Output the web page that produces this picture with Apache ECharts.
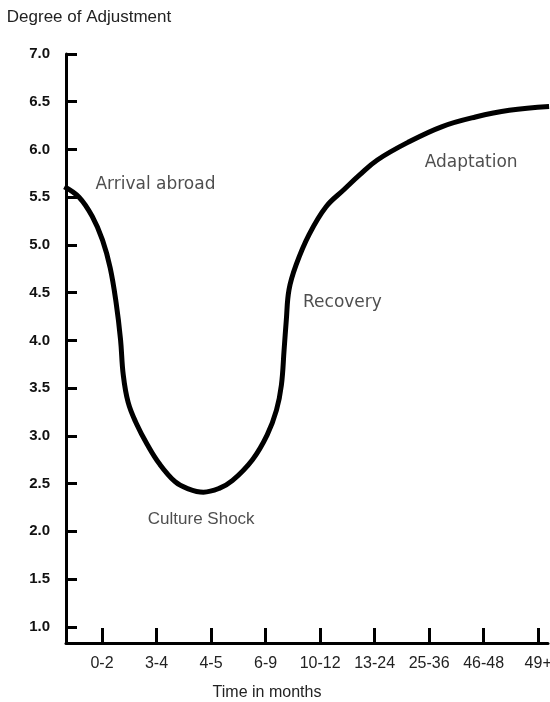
<!DOCTYPE html>
<html>
<head>
<meta charset="utf-8">
<script src="https://cdn.jsdelivr.net/npm/echarts@6/dist/echarts.min.js"></script>
<style>
  html, body { margin: 0; padding: 0; background: #fff; }
  #chart { width: 550px; height: 702px; }
</style>
</head>
<body>
<div id="chart"></div>
<script>
// culture shock curve
var categories = ['0-2', '3-4', '4-5', '6-9', '10-12', '13-24', '25-36', '46-48', '49+'];
var yTicks = [1.0, 1.5, 2.0, 2.5, 3.0, 3.5, 4.0, 4.5, 5.0, 5.5, 6.0, 6.5, 7.0];

// curve, x in category steps
var curveX = [-0.69, -0.42, -0.18, 0.01, 0.15, 0.26, 0.34, 0.39, 0.48, 0.63, 0.83, 1.05,
	1.34, 1.56, 1.86, 2.15, 2.39, 2.76, 3.03, 3.20, 3.29, 3.34, 3.38, 3.43, 3.56, 3.80,
	4.11, 4.44, 4.72, 5.05, 5.63, 6.24, 6.85, 7.47, 8.20];
var curveY = [5.61, 5.50, 5.30, 5.05, 4.76, 4.39, 4.01, 3.64, 3.35, 3.13, 2.91, 2.71,
	2.52, 2.45, 2.41, 2.45, 2.53, 2.75, 3.01, 3.27, 3.53, 3.90, 4.21, 4.53, 4.79, 5.11,
	5.40, 5.58, 5.73, 5.89, 6.08, 6.24, 6.34, 6.41, 6.45];

// stage notes
var noteText = ['Arrival abroad', 'Culture Shock', 'Recovery', 'Adaptation'];
var noteX = [0.98, 1.82, 4.41, 6.77];
var noteY = [5.63, 2.13, 4.40, 5.86];

var curve = [];
for (var i = 0; i < curveX.length; i++) {
	curve.push([curveX[i], curveY[i]]);
}
var notes = [];
for (var j = 0; j < noteText.length; j++) {
	notes.push({
		name: noteText[j],
		value: [noteX[j], noteY[j]],
		// culture shock is set in the plain face, the rest look hand lettered
		label: noteText[j] === 'Culture Shock' ? { fontFamily: 'Liberation Sans' } : {}
	});
}
var xTicks = categories.map(function (c, k) { return k; });

var option = {
	animation: false,
	grid: {
		left: 66,
		right: 2,
		top: 54,
		bottom: 59,
		containLabel: false,
		outerBoundsMode: 'none'
	},
	xAxis: {
		type: 'value',
		min: -0.66,
		max: 8.18,
		name: 'Time in months',
		nameLocation: 'middle',
		nameGap: 42,
		nameTextStyle: {
			fontFamily: 'Liberation Sans',
			fontSize: 16,
			color: '#222',
			padding: [0, 80, 0, 0]
		},
		axisLine: { onZero: false, lineStyle: { color: '#000', width: 3 } },
		axisTick: {
			inside: true,
			length: 15,
			customValues: xTicks,
			lineStyle: { color: '#000', width: 3 }
		},
		axisLabel: {
			customValues: xTicks,
			margin: 13,
			fontFamily: 'Liberation Sans',
			fontSize: 16,
			color: '#222',
			formatter: function (v) { return categories[Math.round(v)]; }
		},
		splitLine: { show: false }
	},
	yAxis: {
		type: 'value',
		min: 0.83,
		max: 7.0,
		name: 'Degree of Adjustment',
		nameLocation: 'end',
		nameGap: 28,
		nameTextStyle: {
			fontFamily: 'Liberation Sans',
			fontSize: 17,
			color: '#222',
			align: 'center',
			padding: [0, 0, 0, 46]
		},
		axisLine: { onZero: false, lineStyle: { color: '#000', width: 3 } },
		axisTick: {
			inside: true,
			length: 11,
			customValues: yTicks,
			lineStyle: { color: '#000', width: 3 }
		},
		axisLabel: {
			customValues: yTicks,
			margin: 16,
			fontFamily: 'Liberation Sans',
			fontWeight: 'bold',
			fontSize: 15,
			color: '#111',
			formatter: function (v) { return v.toFixed(1); }
		},
		splitLine: { show: false }
	},
	series: [
		{
			name: 'Adjustment',
			type: 'line',
			data: curve,
			smooth: 0.4,
			showSymbol: false,
			lineStyle: { color: '#000', width: 5 }
		},
		{
			name: 'Stages',
			type: 'scatter',
			data: notes,
			symbolSize: 1,
			itemStyle: { color: 'rgba(0,0,0,0)' },
			label: {
				show: true,
				position: 'inside',
				formatter: '{b}',
				fontFamily: 'DejaVu Sans',
				fontSize: 17,
				color: '#222'
			}
		}
	]
};

var chart = echarts.init(document.getElementById('chart'));
chart.setOption(option);
</script>
</body>
</html>
